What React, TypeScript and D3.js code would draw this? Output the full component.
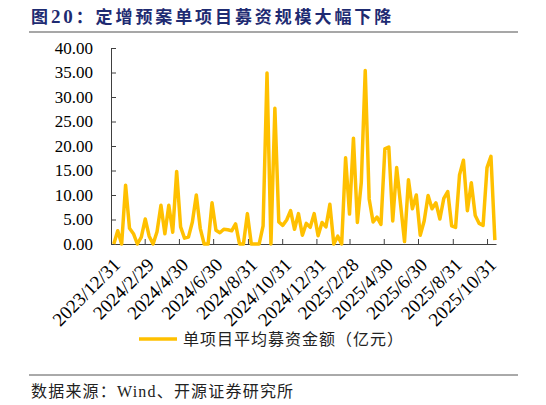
import React, { useRef, useEffect } from 'react';
import * as d3 from 'd3';

const WIDTH = 546;
const HEIGHT = 405;

const titlePrefix = '图';
const titleNumber = '20';
const titleText = '：定增预案单项目募资规模大幅下降';
const seriesName = '单项目平均募资金额（亿元）';
const sourceText = '数据来源：Wind、开源证券研究所';

// 周度数据，首个日期
const startDate = '2024/1/5';
const axisStart = '2023/12/31';
const axisEnd = '2025/11/16';

// 单项目平均募资金额（亿元），按周
const values: number[] = [
  0, 2.7, 0, 12.0, 3.2, 2.1, 0, 1.4, 5.1, 1.6,
  0, 2.5, 7.9, 2.1, 7.9, 2.4, 14.8, 3.5, 1.2, 1.4,
  4.5, 10.0, 3.2, 0, 0, 8.4, 2.8, 2.3, 3.0, 2.9,
  2.7, 4.1, 0, 0, 6.2, 0, 0, 0, 3.7, 34.9,
  0, 27.7, 4.5, 3.8, 4.9, 6.8, 3.0, 6.2, 1.8, 4.2,
  3.4, 6.2, 1.7, 4.4, 3.5, 8.1, 0, 1.6, 0, 17.6,
  6.1, 21.6, 4.4, 12.6, 35.4, 9.2, 4.5, 5.5, 4.0, 19.4,
  19.8, 4.7, 15.6, 8.0, 0.5, 13.1, 7.2, 10.0, 1.8, 4.7,
  9.9, 7.2, 8.4, 5.1, 9.3, 10.7, 3.7, 3.4, 14.1, 17.1,
  6.8, 12.5, 5.8, 4.2, 3.8, 15.6, 17.9, 0.8,
];

const xTickLabels = [
  '2023/12/31', '2024/2/29', '2024/4/30', '2024/6/30', '2024/8/31', '2024/10/31',
  '2024/12/31', '2025/2/28', '2025/4/30', '2025/6/30', '2025/8/31', '2025/10/31',
];

const yTicks = [0, 5, 10, 15, 20, 25, 30, 35, 40];

const App: React.FC = () => {
  const svgRef = useRef<SVGSVGElement>(null);

  useEffect(() => {
    const svg = d3.select(svgRef.current);
    svg.selectAll('*').remove();

    const parse = d3.timeParse('%Y/%-m/%-d');
    const first = parse(startDate)!;
    const dates = values.map((_, i) => d3.timeWeek.offset(first, i));
    const tickDates = xTickLabels.map(s => parse(s)!);

    const left = 111, right = 496, top = 48, bottom = 244;
    const serif = "'Times New Roman', 'Liberation Serif', 'Noto Sans CJK SC', serif";
    const cjk = "'Noto Sans CJK SC', sans-serif";

    const x = d3.scaleTime()
      .domain([parse(axisStart)!, parse(axisEnd)!])
      .range([left, right]);
    const y = d3.scaleLinear().domain([0, 40]).range([bottom, top]);

    // 标题
    const t = svg.append('text')
      .attr('x', 31)
      .attr('y', 23)
      .attr('font-family', cjk)
      .attr('font-weight', 'bold')
      .attr('font-size', 17)
      .attr('letter-spacing', 2.9)
      .attr('fill', '#1e2b72');
    t.append('tspan').text(titlePrefix);
    t.append('tspan').attr('font-family', serif).attr('font-size', 19).text(titleNumber);
    t.append('tspan').text(titleText);

    svg.append('line')
      .attr('x1', 29).attr('x2', 518)
      .attr('y1', 32).attr('y2', 32)
      .attr('stroke', '#8a8a8a')
      .attr('stroke-width', 1.5);

    // Y 轴
    const yAxis = svg.append('g')
      .attr('transform', `translate(${left},0)`)
      .call(d3.axisLeft(y).tickValues(yTicks).tickFormat(d3.format('.2f'))
        .tickSizeInner(-5).tickSizeOuter(0).tickPadding(18));
    yAxis.select('.domain').attr('stroke', '#404040');
    yAxis.selectAll('.tick line').attr('stroke', '#404040');
    yAxis.selectAll('text')
      .attr('font-family', serif)
      .attr('font-size', 17)
      .attr('fill', '#000');

    // X 轴
    const xAxis = svg.append('g')
      .attr('transform', `translate(0,${bottom})`)
      .call(d3.axisBottom(x).tickValues(tickDates)
        .tickFormat((d, i) => xTickLabels[i])
        .tickSizeInner(-5).tickSizeOuter(0));
    xAxis.select('.domain').attr('stroke', '#404040');
    xAxis.selectAll('.tick line').attr('stroke', '#404040');
    xAxis.selectAll('text')
      .attr('x', 0).attr('y', 0).attr('dy', null)
      .attr('transform', 'translate(10,22) rotate(-45)')
      .attr('text-anchor', 'end')
      .attr('font-family', serif)
      .attr('font-size', 19)
      .attr('fill', '#000');

    // 折线
    const line = d3.line<number>()
      .x((_, i) => x(dates[i]))
      .y(d => y(d));

    svg.append('path')
      .datum(values)
      .attr('fill', 'none')
      .attr('stroke', '#ffc000')
      .attr('stroke-width', 3.5)
      .attr('stroke-linejoin', 'round')
      .attr('d', line);

    // 图例
    svg.append('line')
      .attr('x1', 139).attr('x2', 177)
      .attr('y1', 339).attr('y2', 339)
      .attr('stroke', '#ffc000')
      .attr('stroke-width', 3.5);
    svg.append('text')
      .attr('x', 183)
      .attr('y', 345)
      .attr('font-family', cjk)
      .attr('font-size', 16)
      .attr('letter-spacing', 1)
      .attr('fill', '#222')
      .text(seriesName);

    // 资料来源
    svg.append('line')
      .attr('x1', 29).attr('x2', 518)
      .attr('y1', 375).attr('y2', 375)
      .attr('stroke', '#555')
      .attr('stroke-width', 1);
    svg.append('text')
      .attr('x', 31)
      .attr('y', 397)
      .attr('font-family', serif)
      .attr('font-size', 16)
      .attr('letter-spacing', 1.2)
      .attr('fill', '#222')
      .text(sourceText);
  }, []);

  return (
    <svg
      ref={svgRef}
      width={WIDTH}
      height={HEIGHT}
      style={{ position: 'absolute', left: 0, top: 0, background: '#fff' }}
    />
  );
};

export default App;
